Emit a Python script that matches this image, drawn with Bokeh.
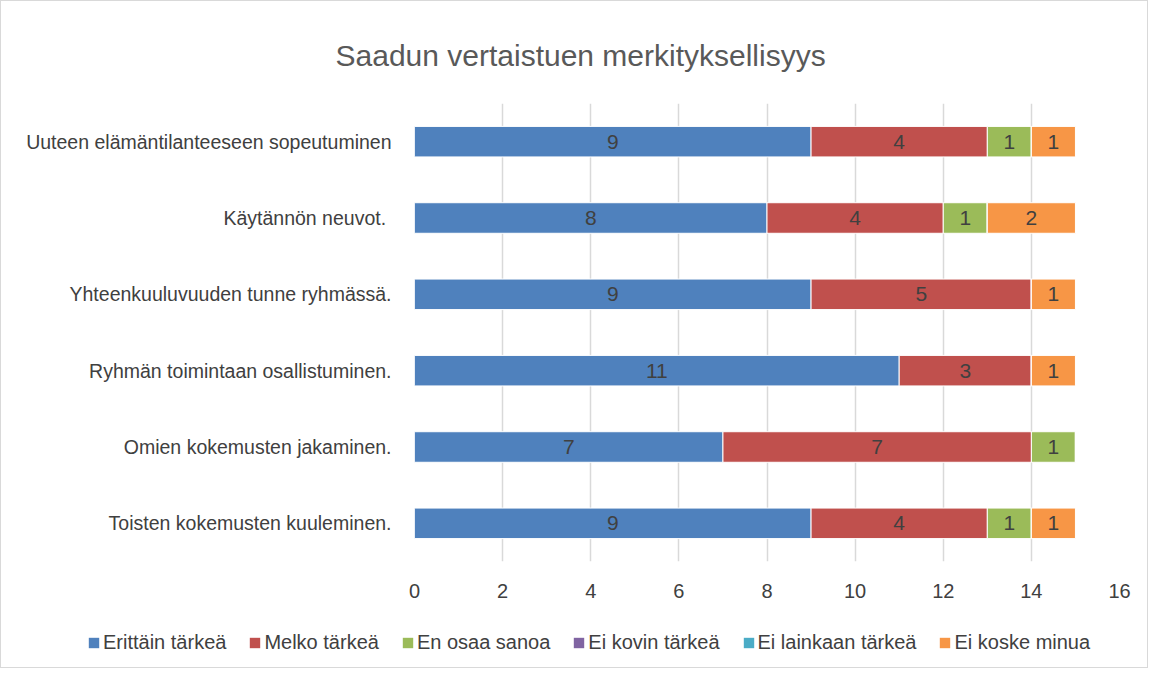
from bokeh.plotting import figure
from bokeh.layouts import column
from bokeh.models import ColumnDataSource, LabelSet, Legend, LegendItem, FactorRange, Title
from bokeh.core.properties import value
from bokeh.embed import file_html
from bokeh.resources import INLINE

# Data (bottom to top)
categories = [
    "Toisten kokemusten kuuleminen.",
    "Omien kokemusten jakaminen.",
    "Ryhmän toimintaan osallistuminen.",
    "Yhteenkuuluvuuden tunne ryhmässä.",
    "Käytännön neuvot. ",
    "Uuteen elämäntilanteeseen sopeutuminen",
]
series = ["Erittäin tärkeä", "Melko tärkeä", "En osaa sanoa",
          "Ei kovin tärkeä", "Ei lainkaan tärkeä", "Ei koske minua"]
erittain = [9, 7, 11, 9, 8, 9]
melko = [4, 7, 3, 5, 4, 4]
en_osaa = [1, 1, 0, 0, 1, 1]
ei_kovin = [0, 0, 0, 0, 0, 0]
ei_lainkaan = [0, 0, 0, 0, 0, 0]
ei_koske = [1, 0, 1, 1, 2, 1]
x_ticks = [0, 2, 4, 6, 8, 10, 12, 14, 16]

colors = ["#4F81BD", "#C0504D", "#9BBB59", "#8064A2", "#4BACC6", "#F79646"]
FONT = "Liberation Sans"
TXT = "#404040"

values = [erittain, melko, en_osaa, ei_kovin, ei_lainkaan, ei_koske]
keys = ["s%d" % i for i in range(len(series))]
data = {"cat": categories}
for k, v in zip(keys, values):
    data[k] = v
source = ColumnDataSource(data)

W = 1146
H1, H2 = 612, 54
p = figure(width=W, height=H1, output_backend="svg", toolbar_location=None,
           y_range=FactorRange(factors=categories), x_range=(0, 16),
           min_border_left=413, min_border_right=28, min_border_top=102,
           min_border_bottom=52)

renderers = p.hbar_stack(keys, y="cat", height=0.4, color=colors, source=source,
                         line_color="white", line_width=1)

# segment labels
lx, ly, lt = [], [], []
for i, c in enumerate(categories):
    left = 0
    for v in values:
        vv = v[i]
        if vv > 0:
            lx.append(left + vv / 2)
            ly.append(c)
            lt.append(str(vv))
        left += vv
lsrc = ColumnDataSource(dict(x=lx, y=ly, t=lt))
p.add_layout(LabelSet(x="x", y="y", text="t", source=lsrc, text_align="center",
                      text_baseline="middle", text_font=value(FONT),
                      text_font_size=value("21px"), text_color=TXT))

# axes
p.xaxis.ticker = x_ticks
p.xaxis.axis_line_color = None
p.xaxis.major_tick_line_color = None
p.xaxis.minor_tick_line_color = None
p.xaxis.major_label_text_font = FONT
p.xaxis.major_label_text_font_size = "20px"
p.xaxis.major_label_text_color = TXT
p.xaxis.major_label_standoff = 16

p.yaxis.axis_line_color = None
p.yaxis.major_tick_line_color = None
p.yaxis.minor_tick_line_color = None
p.yaxis.major_label_text_font = FONT
p.yaxis.major_label_text_font_size = "19.5px"
p.yaxis.major_label_text_color = TXT
p.yaxis.major_label_standoff = 17

p.ygrid.grid_line_color = None
p.xgrid.grid_line_color = "#d9d9d9"
p.xgrid.grid_line_width = 1.5
p.y_range.range_padding = 0
p.outline_line_color = None

p.title = Title(text="Saadun vertaistuen merkityksellisyys", align="left",
                vertical_align="top",
                offset=-79, text_font=FONT, text_font_size="30px",
                text_font_style="normal", text_color="#595959", standoff=60)

# legend strip (own figure spanning the full width)
lp = figure(width=W, height=H2, output_backend="svg", toolbar_location=None,
            x_axis_location=None, y_axis_location=None,
            min_border=0, x_range=(0, 1), y_range=(0, 1))
lp.grid.grid_line_color = None
lp.outline_line_color = None
dummies = [lp.hbar(y=[0.5], left=[0], right=[0], height=0.4, fill_color=c,
                   line_color=None) for c in colors]
legend = Legend(items=[LegendItem(label=s, renderers=[r]) for s, r in zip(series, dummies)],
                orientation="horizontal", location=(86, 13),
                label_text_font=FONT, label_text_font_size="20px",
                label_text_color=TXT, glyph_width=13, glyph_height=13,
                label_standoff=3, spacing=22, padding=0, margin=0,
                border_line_color=None, background_fill_alpha=0)
lp.add_layout(legend)

p.frame_align = False
lp.frame_align = False

layout = column(p, lp, spacing=0)
layout.styles = {"border": "1px solid #d9d9d9"}

open("out.html", "w").write(file_html(layout, INLINE))
